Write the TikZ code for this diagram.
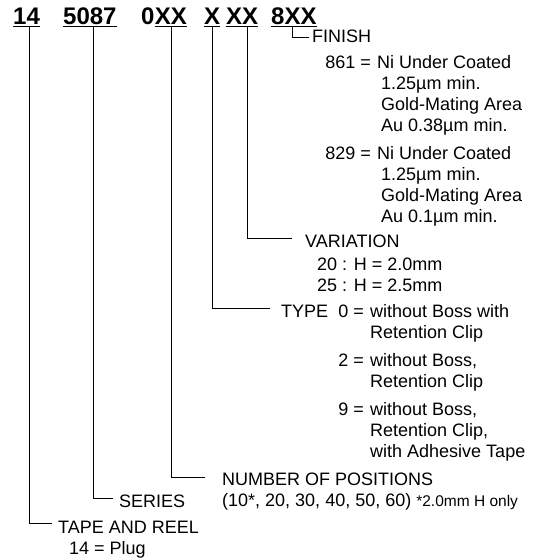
\documentclass[tikz,border=0pt]{standalone}
\usepackage{fontspec}
\setmainfont{Liberation Sans}
\begin{document}
\begin{tikzpicture}[x=1pt,y=-1pt,
  txt/.style={anchor=base west,inner sep=0pt,font=\fontsize{18}{21}\selectfont},
  code/.style={anchor=base east,inner sep=0pt,font=\fontsize{18}{21}\selectfont},
  hdr/.style={anchor=base west,inner sep=0pt,font=\fontsize{24}{28}\selectfont\bfseries},
  conn/.style={line width=1pt},
  uline/.style={line width=1.4pt}]
\useasboundingbox (0,0) rectangle (544,558);

% header
\node[hdr] (h14) at (13,24) {14};
\node[hdr] (h5087) at (63,24) {5087};
\node[hdr] (h0) at (141,24) {0};
\node[hdr] (hXXa) at (h0.base east) {XX};
\node[hdr] (hX) at (204,24) {X};
\node[hdr] (hXXb) at (226,24) {XX};
\node[hdr] (h8XX) at (271,24) {8XX};
\foreach \n in {h14,h5087,hXXa,hX,hXXb,h8XX}
  \draw[uline] ([yshift=-2.5pt]\n.base west) -- ([yshift=-2.5pt]\n.base east);

% connector tops
\coordinate (t14) at (29,26.5);
\coordinate (t5087) at (93,26.5);
\coordinate (tXXa) at (171.5,26.5);
\coordinate (tX) at (212,26.5);
\coordinate (tXXb) at (247,26.5);
\coordinate (t8XX) at (292,26.5);

% FINISH
\node[txt] (finish) at (312,42) {FINISH};
\node[code] (c861) at (371,68) {861 =};
\node[txt] (d861a) at (377,68) {Ni Under Coated};
\node[txt] (d861b) at (381,89) {1.25µm min.};
\node[txt] (d861c) at (381,110) {Gold-Mating Area};
\node[txt] (d861d) at (381,131) {Au 0.38µm min.};
\node[code] (c829) at (371,159) {829 =};
\node[txt] (d829a) at (377,159) {Ni Under Coated};
\node[txt] (d829b) at (381,180) {1.25µm min.};
\node[txt] (d829c) at (381,201) {Gold-Mating Area};
\node[txt] (d829d) at (381,222) {Au 0.1µm min.};

% VARIATION
\node[txt] (variation) at (305,247) {VARIATION};
\node[txt] (v20) at (317,270) {20 : H = 2.0mm};
\node[txt] (v25) at (317,291) {25 : H = 2.5mm};

% TYPE
\node[txt] (type) at (281,317) {TYPE};
\node[code] (c0) at (364,317) {0 =};
\node[txt] (d0a) at (370,317) {without Boss with};
\node[txt] (d0b) at (370,338) {Retention Clip};
\node[code] (c2) at (364,366) {2 =};
\node[txt] (d2a) at (370,366) {without Boss,};
\node[txt] (d2b) at (370,387) {Retention Clip};
\node[code] (c9) at (364,415) {9 =};
\node[txt] (d9a) at (370,415) {without Boss,};
\node[txt] (d9b) at (370,436) {Retention Clip,};
\node[txt] (d9c) at (370,457) {with Adhesive Tape};

% NUMBER OF POSITIONS
\node[txt] (npos) at (222,485) {NUMBER OF POSITIONS};
\node[txt] (nposv) at (222,506) {(10*, 20, 30, 40, 50, 60) {\fontsize{15.5}{18}\selectfont *2.0mm H only}};

% SERIES
\node[txt] (series) at (119,507) {SERIES};

% TAPE AND REEL
\node[txt] (tape) at (58,533) {TAPE AND REEL};
\node[txt] (plug) at (69,554) {14 = Plug};

% connectors
\draw[conn] (t8XX) |- ([xshift=-3pt,yshift=5pt]finish.base west);
\draw[conn] (tXXb) |- ([xshift=-13pt,yshift=8.5pt]variation.base west);
\draw[conn] (tX) |- ([xshift=-11pt,yshift=8.5pt]type.base west);
\draw[conn] (tXXa) |- ([xshift=-17pt,yshift=7.5pt]npos.base west);
\draw[conn] (t5087) |- ([xshift=-6pt,yshift=9pt]series.base west);
\draw[conn] (t14) |- ([xshift=-6pt,yshift=10pt]tape.base west);
\end{tikzpicture}
\end{document}
